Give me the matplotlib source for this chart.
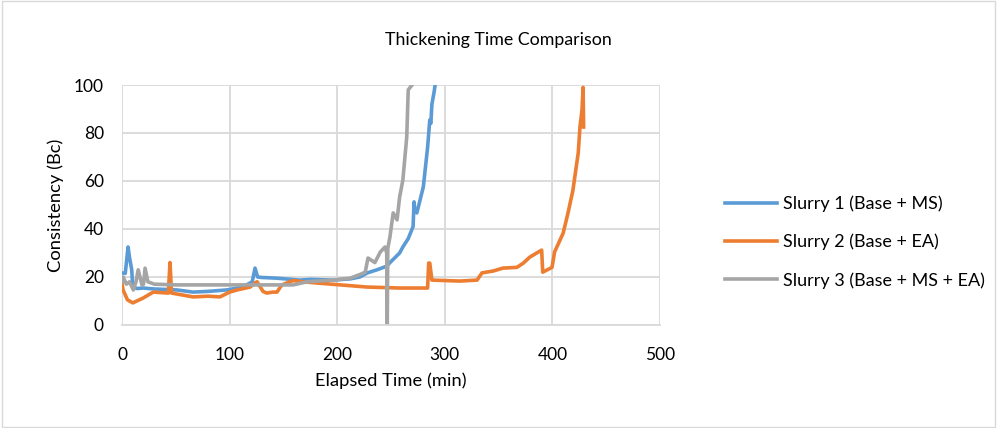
import matplotlib.pyplot as plt
from matplotlib.patches import Rectangle

plt.rcParams['font.family'] = ['Lato', 'DejaVu Sans']

# Slurry 1 (Base + MS)
t1 = [0, 3, 5.6, 7, 9, 10, 14, 19.5, 30, 51, 66, 80, 97.5, 112, 121, 123.6, 126, 130, 144,
      165, 175, 196, 212, 221, 228, 237, 246, 249, 258, 261, 266, 270.5, 271.4, 272, 274,
      280, 284, 286, 287, 288, 290, 291]
c1 = [21.7, 21.5, 32.5, 28, 23, 15.8, 15.2, 15.4, 15, 14.6, 13.7, 14, 14.6, 15.8, 18, 23.7,
      20, 19.8, 19.5, 18.7, 19, 18.7, 19.2, 20, 21.7, 23, 24.5, 26, 30, 32.5, 36, 41, 51.3,
      48, 46.7, 57.5, 74, 85.4, 84, 92, 97, 100]

# Slurry 2 (Base + EA)
t2 = [0, 1, 5, 10, 19.5, 29, 43, 44.6, 46, 66, 80, 91, 100, 107, 119, 123.6, 125.5, 131,
      134.5, 140, 144, 148.5, 159, 168, 181, 203, 228, 258, 284, 285, 286, 288, 314, 330,
      334.5, 345, 354, 367, 373, 379, 390, 391, 399.6, 402, 410, 414.5, 419, 424, 425.6,
      427.5, 428.5, 429]
c2 = [17, 14.6, 10.5, 9.2, 11.2, 13.7, 13.3, 26, 13.3, 11.7, 12, 11.7, 13.7, 14.6, 15.8,
      17.5, 18, 14, 13.3, 13.7, 13.7, 16.7, 18.5, 18, 17.5, 16.7, 15.8, 15.4, 15.4, 25.8,
      25.8, 18.7, 18.3, 18.7, 21.7, 22.5, 23.7, 24, 25.8, 28.3, 31.2, 22, 24, 30.4, 38.3,
      46.7, 56, 71.7, 82.5, 89.6, 99, 82.5]

# Slurry 3 (Base + MS + EA)
t3 = [0, 1, 4, 7, 10.5, 13, 15, 18.5, 20, 21.4, 24, 30, 51, 100, 159, 167, 172, 196, 212,
      221, 226, 228.6, 235, 240, 244.4, 246, 246.5, 247, 249, 252, 255.6, 258, 261, 264.6,
      266, 269.5]
c3 = [18, 20, 17, 18, 14.6, 18, 23, 16.7, 17, 23.7, 18, 17, 16.7, 16.7, 16.7, 17.5, 18,
      18.7, 19.5, 21, 22, 27.9, 26, 30.4, 32.5, 30, 0, 32, 36.7, 46.7, 43.8, 53.3, 60.4,
      78.3, 98, 100]

series = [
    (t1, c1, 'Slurry 1 (Base + MS)', '#5B9BD5'),
    (t2, c2, 'Slurry 2 (Base + EA)', '#ED7D31'),
    (t3, c3, 'Slurry 3 (Base + MS + EA)', '#A5A5A5'),
]

fig = plt.figure(figsize=(9.97, 4.28), dpi=100)
ax = fig.add_axes([0.1224, 0.2407, 0.5396, 0.5607])

for t, c, lab, col in series:
    ax.plot(t, c, color=col, lw=2.6, label=lab, solid_joinstyle='round')

ax.set_xlim(0, 500)
ax.set_ylim(0, 100)
ax.set_xticks(range(0, 501, 100))
ax.set_yticks(range(0, 101, 20))
ax.grid(True, color='#d9d9d9', lw=1.3)
ax.set_axisbelow(True)
for s in ['top', 'right', 'left']:
    ax.spines[s].set_visible(False)
ax.spines['bottom'].set_color('#d9d9d9')
ax.spines['bottom'].set_linewidth(1.3)
ax.tick_params(length=0, labelsize=12.5, colors='#000000')
ax.tick_params(axis='x', pad=16)
ax.tick_params(axis='y', pad=13)

ax.set_xlabel('Elapsed Time (min)', fontsize=13.2, labelpad=7)
ax.set_ylabel('Consistency (Bc)', fontsize=13.2, labelpad=7)
fig.text(0.5, 1 - 40 / 428, 'Thickening Time Comparison', ha='center', va='center', fontsize=12.8)

ax.legend(loc='center left', bbox_to_anchor=(1.09, 0.345), frameon=False, fontsize=13,
          handlelength=2.9, handletextpad=0.35, labelspacing=1.2)

fig.patches.append(Rectangle((0.002, 0.002), 0.996, 0.996, transform=fig.transFigure,
                             fill=False, edgecolor='#d9d9d9', lw=1))

fig.savefig('out.png', dpi=100)
